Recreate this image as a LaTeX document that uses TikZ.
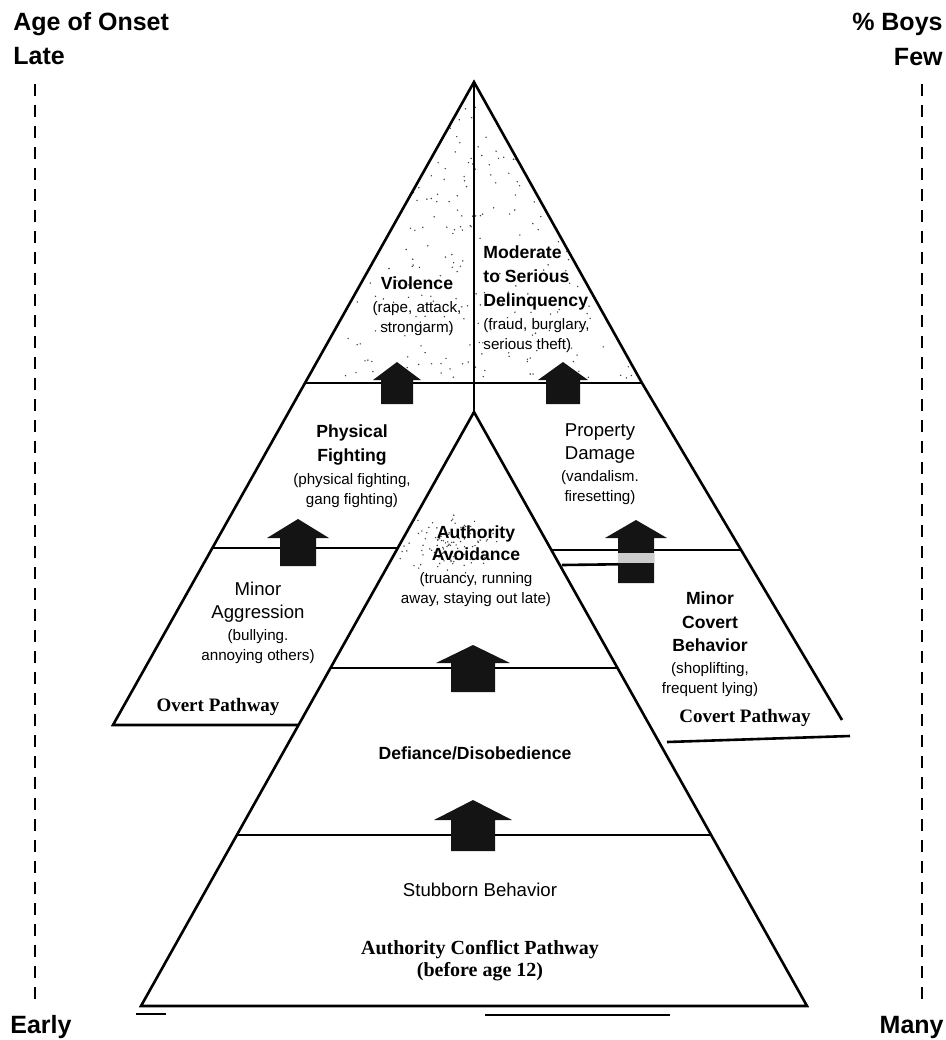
\documentclass[tikz,border=0pt]{standalone}
\usepackage{fontspec}
\setmainfont{Liberation Sans}
\newfontfamily\pathfont{Liberation Serif}
\usetikzlibrary{calc}

\newcommand{\stagehd}{\bfseries\fontsize{8.8}{10}\selectfont}
\newcommand{\stagerg}{\mdseries\fontsize{9.3}{10}\selectfont}
\newcommand{\stagesm}{\mdseries\fontsize{7.6}{10}\selectfont}

% block arrow: x, tip, neck, bottom, half head, half shaft
\newcommand{\blockarrow}[6]{%
  \fill[arrowfill] (#1,#2) -- (#1+#5,#3) -- (#1+#6,#3) -- (#1+#6,#4)
    -- (#1-#6,#4) -- (#1-#6,#3) -- (#1-#5,#3) -- cycle;}

\tikzset{
  wall/.style={line width=1.3pt},
  gauge/.style={line width=0.8pt, dash pattern=on 6pt off 4.5pt},
  title/.style={font=\bfseries\fontsize{12.5}{15}\selectfont, inner sep=0pt},
  stage/.style={align=center, inner sep=0pt, font=\fontsize{7.6}{10}\selectfont},
  pathway/.style={font=\pathfont\bfseries\fontsize{9.5}{11}\selectfont, inner sep=0pt, align=center},
  arrowfill/.style={fill=black!92},
  speck/.style={fill=black!75},
}

\begin{document}
\begin{tikzpicture}[x=0.5pt,y=-0.5pt]
    \useasboundingbox (0,0) rectangle (946,1040);

    % Key points
    \coordinate (apex) at (474,82);
    \coordinate (inapex) at (474,412);
    \coordinate (topL) at (305,383);
    \coordinate (topR) at (642,383);
    \coordinate (baseL) at (141,1006);
    \coordinate (baseR) at (807,1006);

    % Screen tone in the top triangle
    \pgfmathsetseed{42}
    \foreach \k in {1,...,210} {
        \pgfmathsetmacro\yy{82+296*sqrt(rnd)}
        \pgfmathsetmacro\xx{474+(2*rnd-1)*0.55*(\yy-82)}
        \fill[speck] (\xx,\yy) circle (0.4pt);
    }
    % Screen tone round Authority Avoidance
    \begin{scope}
        \clip (inapex) -- (baseL) -- (baseR) -- cycle;
        \foreach \k in {1,...,110} {
            \pgfmathsetmacro\xx{452+55*(rnd+rnd-1)}
            \pgfmathsetmacro\yy{545+32*(rnd+rnd-1)}
            \fill[speck] (\xx,\yy) circle (0.4pt);
        }
    \end{scope}

    % Scales at the sides
    \node[title, anchor=west] (onset) at (13,24) {Age of Onset};
    \node[title, anchor=west] (late) at (13,56) {Late};
    \node[title, anchor=east] (boys) at (943,24) {\% Boys};
    \node[title, anchor=east] (few) at (943,57) {Few};
    \node[title, anchor=west] (early) at (10,1027) {Early};
    \node[title, anchor=east] (many) at (944,1027) {Many};
    \draw[gauge] (35,84) -- (35,1003);
    \draw[gauge] (922,84) -- (922,1003);

    % Top triangle and overt / covert pathways
    \draw[wall] (topL) -- (apex) -- (topR);
    \draw[wall] (apex) -- (inapex);
    \draw[wall] (topL) -- (topR);
    \draw[wall] (topL) -- (113,725) -- (298,725);
    \draw[wall] (212,548) -- (398,548);
    \draw[wall] (topR) -- (842,720);
    \draw[wall] (551,550) -- (741,550);
    \draw[wall] (562,565) -- (640,564);
    \draw[wall] (667,742) -- (850,736);

    % Authority conflict pyramid
    \draw[wall] (baseL) -- (inapex) -- (baseR) -- cycle;
    \draw[wall] (330,668) -- (618,668);
    \draw[wall] (237,835) -- (711,835);
    \draw[wall] (136,1014) -- (166,1014);
    \draw[wall] (485,1015) -- (670,1015);

    % Arrows
    \blockarrow{397}{362}{380}{404}{24}{16}
    \blockarrow{563}{362}{380}{404}{25}{17}
    \blockarrow{298}{519}{538}{566}{31}{18}
    \blockarrow{636}{520}{538}{583}{31}{18}
    \fill[black!20] (618,553) rectangle (654,563);
    \blockarrow{473}{645}{663}{692}{37}{22}
    \blockarrow{473}{800}{820}{851}{39}{22}

    % Labels
    \node[stage] (violence) at (417,306) {\stagehd Violence\\[1.3pt] \stagesm (rape, attack,\\ \stagesm strongarm)};
    \node[stage, align=left, anchor=west] (delinq) at (483,299) {\stagehd Moderate\\[2pt] \stagehd to Serious\\[2pt] \stagehd Delinquency\\[1.3pt] \stagesm (fraud, burglary,\\ \stagesm serious theft)};
    \node[stage] (fighting) at (352,466) {\stagehd Physical\\[2pt] \stagehd Fighting\\[1.3pt] \stagesm (physical fighting,\\ \stagesm gang fighting)};
    \node[stage] (damage) at (600,464) {\stagerg Property\\[1.5pt] \stagerg Damage\\[1.3pt] \stagesm (vandalism.\\ \stagesm firesetting)};
    \node[stage] (avoid) at (476,566) {\stagehd Authority\\[1pt] \stagehd Avoidance\\[1.5pt] \stagesm (truancy, running\\ \stagesm away, staying out late)};
    \node[stage] (aggress) at (258,623) {\stagerg Minor\\[1.5pt] \stagerg Aggression\\[1.3pt] \stagesm (bullying.\\ \stagesm annoying others)};
    \node[stage] (minorcov) at (710,644) {\stagehd Minor\\[2pt] \stagehd Covert\\[1.5pt] \stagehd Behavior\\[1.3pt] \stagesm (shoplifting,\\ \stagesm frequent lying)};
    \node[pathway] (overt) at (218,707) {Overt Pathway};
    \node[pathway] (covert) at (745,718) {Covert Pathway};
    \node[stage, font=\stagehd] (defy) at (475,753) {Defiance/Disobedience};
    \node[stage, font=\stagerg] (stubborn) at (480,890) {Stubborn Behavior};
    \node[pathway, font=\pathfont\bfseries\fontsize{10}{11}\selectfont] (conflict) at (480,961) {Authority Conflict Pathway\\(before age 12)};
\end{tikzpicture}
\end{document}
